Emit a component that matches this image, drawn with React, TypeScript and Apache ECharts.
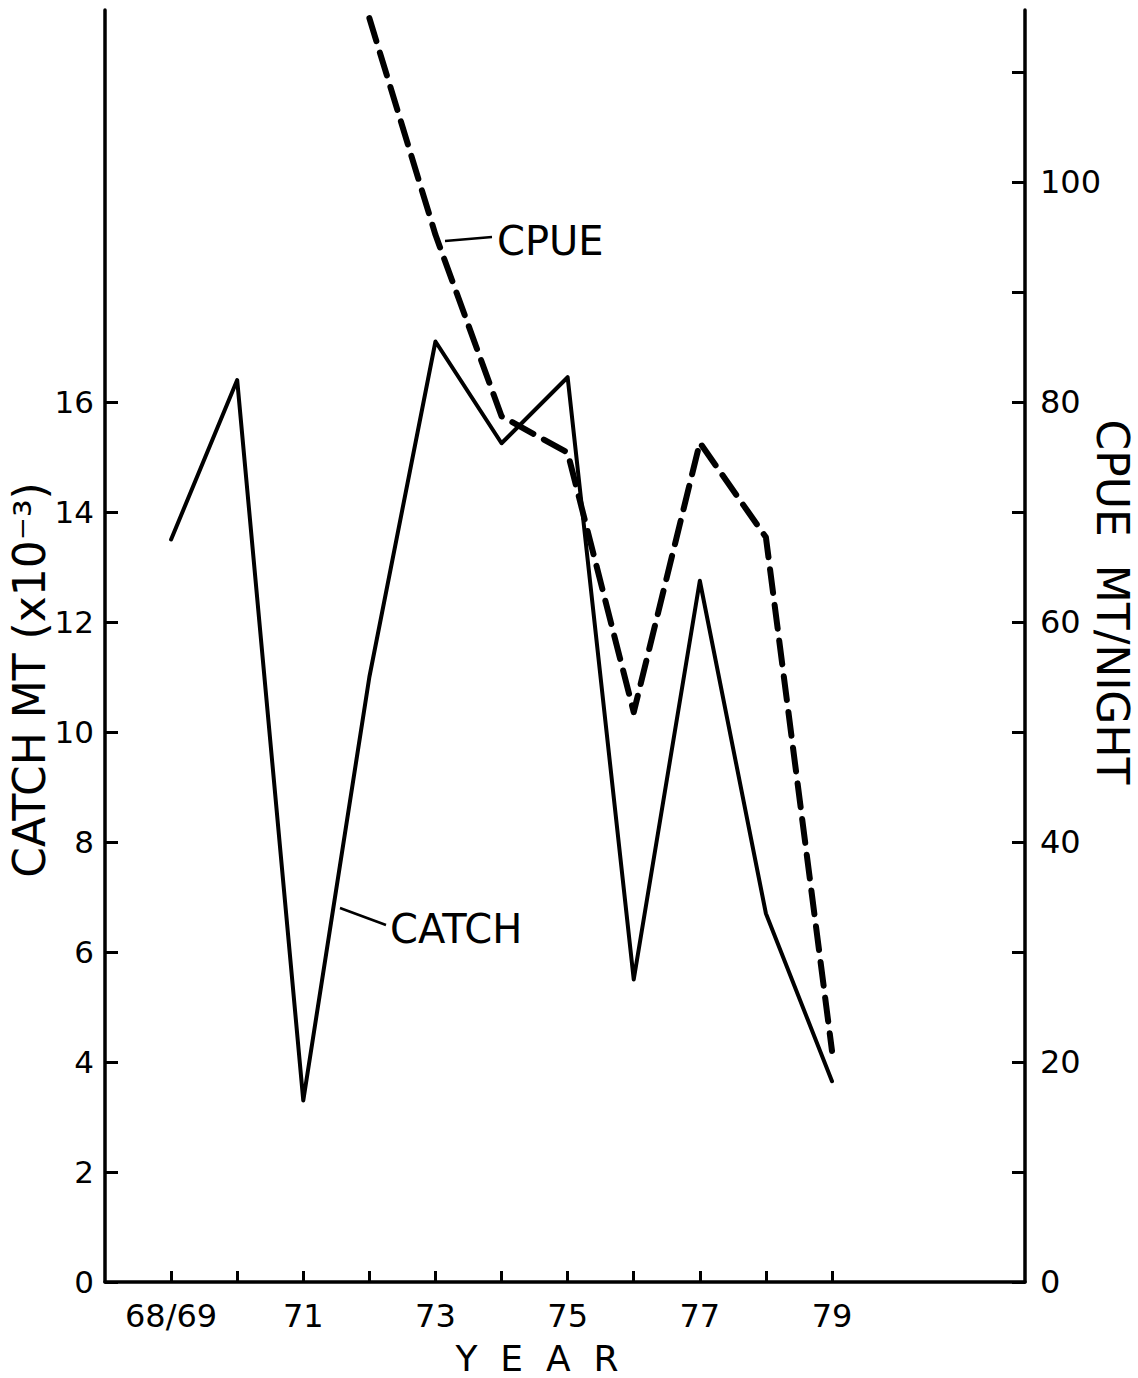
import React, { useEffect, useRef } from "react";
import * as echarts from "echarts";

const years = [69, 70, 71, 72, 73, 74, 75, 76, 77, 78, 79];
const catchValues = [13.5, 16.4, 3.3, 11.0, 17.1, 15.25, 16.45, 5.5, 12.75, 6.7, 3.65];
const cpueValues = [null, null, null, 114.9, 95.2, 78.7, 75.4, 51.8, 76.3, 67.7, 21.0];
const xLabelValues = [69, 71, 73, 75, 77, 79];
const xLabelTexts = ["68/69", "71", "73", "75", "77", "79"];
const leftTickValues = [0, 2, 4, 6, 8, 10, 12, 14, 16];
const rightTickValues = [0, 10, 20, 30, 40, 50, 60, 70, 80, 90, 100, 110];
const rightLabelValues = [0, 20, 40, 60, 80, 100];

const FONT = "'DejaVu Sans', sans-serif";

export default function App() {
  const ref = useRef<HTMLDivElement>(null);
  useEffect(() => {
    document.body.style.margin = "0";
    if (!ref.current) return;
    const chart = echarts.init(ref.current, null, { renderer: "svg" });
    const axisLine = { show: true, lineStyle: { color: "#000", width: 3.5 } };
    const tickStyle = { color: "#000", width: 3 };
    const labelBase = { color: "#000", fontSize: 32, fontFamily: FONT };
    const textStyle = (text: string, fontSize: number, align: string) => ({
      text,
      fill: "#000",
      fontSize,
      fontFamily: FONT,
      align,
      verticalAlign: "middle",
      textAlign: align,
      textVerticalAlign: "middle",
    });
    chart.setOption({
      animation: false,
      backgroundColor: "#fff",
      grid: { left: 105, right: 113, top: 10, bottom: 96 },
      xAxis: {
        type: "value",
        min: 68,
        max: 81.92,
        axisLine,
        axisTick: { show: true, inside: true, length: 11, customValues: years, lineStyle: tickStyle },
        axisLabel: {
          ...labelBase,
          margin: 18,
          customValues: xLabelValues,
          formatter: (v: number) => {
            const i = xLabelValues.indexOf(Math.round(v));
            return i >= 0 ? xLabelTexts[i] : "";
          },
        },
        splitLine: { show: false },
      },
      yAxis: [
        {
          type: "value",
          position: "left",
          min: 0,
          max: 23.127,
          axisLine,
          axisTick: { show: true, inside: true, length: 13, customValues: leftTickValues, lineStyle: tickStyle },
          axisLabel: { ...labelBase, fontSize: 31, margin: 11, customValues: leftTickValues },
          splitLine: { show: false },
        },
        {
          type: "value",
          position: "right",
          min: 0,
          max: 115.636,
          axisLine,
          axisTick: { show: true, inside: true, length: 13, customValues: rightTickValues, lineStyle: tickStyle },
          axisLabel: { ...labelBase, margin: 15, customValues: rightLabelValues },
          splitLine: { show: false },
        },
      ],
      series: [
        {
          name: "CATCH",
          type: "line",
          yAxisIndex: 0,
          data: years.map((y, i) => [y, catchValues[i]]),
          showSymbol: false,
          symbol: "none",
          lineStyle: { color: "#000", width: 4, join: "round", cap: "round" },
        },
        {
          name: "CPUE",
          type: "line",
          yAxisIndex: 1,
          data: years.map((y, i) => [y, cpueValues[i]]),
          showSymbol: false,
          symbol: "none",
          connectNulls: false,
          lineStyle: { color: "#000", width: 6, type: [24, 12], cap: "round", join: "round" },
        },
      ],
      graphic: [
        {
          type: "line",
          shape: { x1: 445, y1: 241, x2: 492, y2: 237 },
          style: { stroke: "#000", lineWidth: 2.5 },
        },
        { type: "text", x: 497, y: 241, style: textStyle("CPUE", 40, "left") },
        {
          type: "line",
          shape: { x1: 340, y1: 908, x2: 386, y2: 925 },
          style: { stroke: "#000", lineWidth: 2.5 },
        },
        { type: "text", x: 390, y: 929, style: textStyle("CATCH", 40, "left") },
        {
          type: "text",
          x: 29,
          y: 680,
          rotation: Math.PI / 2,
          style: textStyle("CATCH MT (x10⁻³)", 44, "center"),
        },
        {
          type: "text",
          x: 1112,
          y: 602,
          rotation: -Math.PI / 2,
          style: textStyle("CPUE  MT/NIGHT", 44, "center"),
        },
        { type: "text", x: 537, y: 1358, style: textStyle("Y  E  A  R", 36, "center") },
      ],
    });
    return () => chart.dispose();
  }, []);
  return <div ref={ref} style={{ width: 1138, height: 1378 }} />;
}
